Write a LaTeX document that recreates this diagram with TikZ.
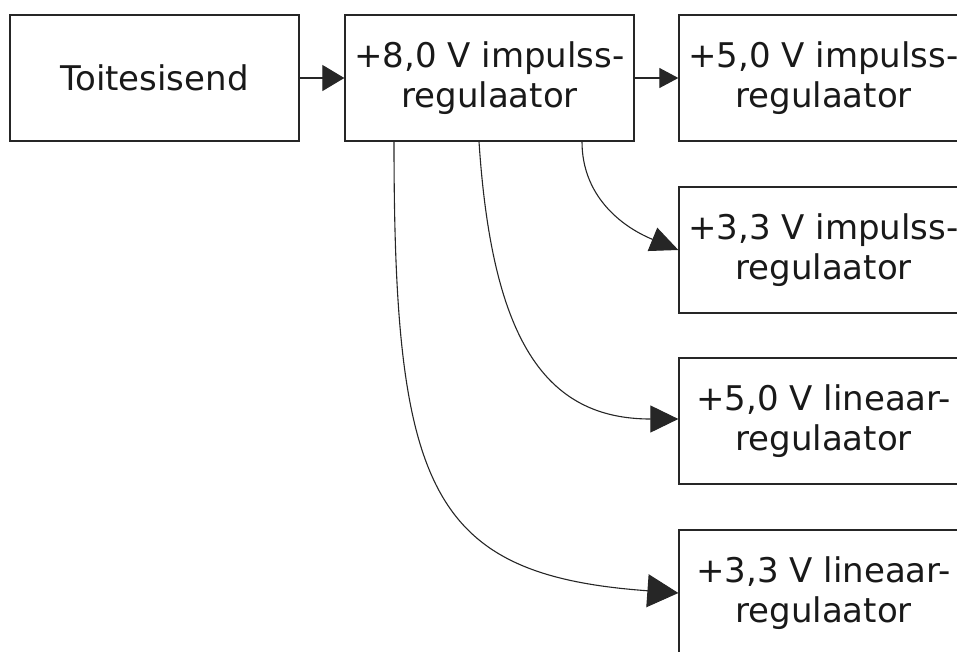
\documentclass[tikz,border=0pt]{standalone}
\usepackage{fontspec}
\setmainfont{DejaVu Sans}
\usetikzlibrary{arrows.meta}

\begin{document}
\begin{tikzpicture}[x=1pt,y=-1pt,
  block/.style={draw=black!85, line width=1.3pt, rectangle,
    minimum width=289pt, minimum height=126pt, inner sep=0pt,
    align=center, text=black!90,
    font=\fontsize{34}{40.5}\selectfont},
  link/.style={draw=black!85, line width=1.1pt}
]
\useasboundingbox (0,0) rectangle (957,651);
\clip (0,0) rectangle (957,651);

% supply chain blocks
\node[block] (in)   at (154.5,78)  {Toitesisend};
\node[block] (reg8) at (489.5,78)  {+8,0 V impulss-\\regulaator};
\node[block] (s5)   at (823.5,78)  {+5,0 V impulss-\\regulaator};
\node[block] (s33)  at (823.5,250) {+3,3 V impulss-\\regulaator};
\node[block] (l5)   at (823.5,421) {+5,0 V lineaar-\\regulaator};
\node[block] (l33)  at (823.5,593) {+3,3 V lineaar-\\regulaator};

% straight feeds
\draw[link, -{Triangle[length=22pt,width=26pt]}] (in.east) -- (reg8.west);
\draw[link, -{Triangle[length=19pt,width=20pt]}] (reg8.east) -- (s5.west);

% branches from the 8 V regulator
\draw[link, -{Triangle[length=28pt,width=25pt]}]
  ([xshift=92.5pt]reg8.south) .. controls (582,195) and (620,226) .. (s33.west);
\draw[link, -{Triangle[length=28pt,width=27pt]}]
  ([xshift=-10.5pt]reg8.south) .. controls (492,340) and (545,419) .. ([yshift=2pt]l5.west);
\draw[link, -{Triangle[length=31pt,width=33pt]}]
  ([xshift=-95.5pt]reg8.south) .. controls (394,490) and (430,575) .. (l33.west);
\end{tikzpicture}
\end{document}
